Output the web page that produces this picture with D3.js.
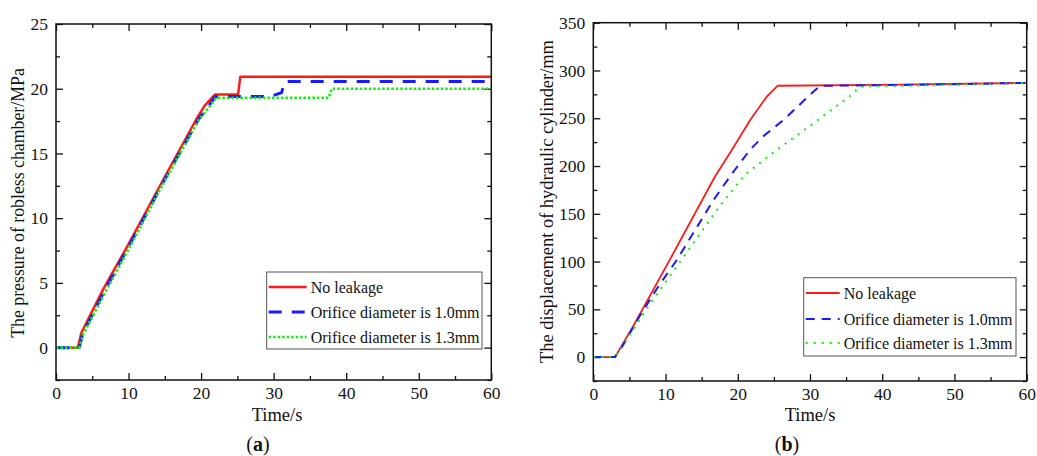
<html>
<head>
<meta charset="UTF-8"/>
<script src="https://d3js.org/d3.v7.min.js"></script>
<style>
body{margin:0;background:#fff;}
svg text{font-family:"Liberation Serif","Times New Roman",serif;fill:#111;}
.frame{fill:none;stroke:#111;stroke-width:1.5;}
.tick line{stroke:#111;stroke-width:1.3;}
.domain{display:none;}
</style>
</head>
<body>
<svg id="fig" width="1037" height="456"></svg>
<script>
'use strict';

// shared
var timeTicks = [0, 10, 20, 30, 40, 50, 60];
var seriesNames = ['No leakage', 'Orifice diameter is 1.0mm', 'Orifice diameter is 1.3mm'];

// (a) pressure of robless chamber, MPa
var pTicks = [0, 5, 10, 15, 20, 25];
var pNoLeakT = [0, 3, 3.5, 6.5, 10, 15, 19.4, 20.5, 21.9, 25.1, 25.4, 60];
var pNoLeakV = [0, 0, 1.15, 4.5, 8.0, 13.2, 17.7, 18.7, 19.55, 19.55, 20.92, 20.92];
var p10T = [0, 3.2, 3.7, 6.7, 10, 15, 19.6, 22, 29.6, 31.1, 31.5, 60];
var p10V = [0, 0, 1.1, 4.4, 7.8, 13.0, 17.6, 19.4, 19.4, 19.7, 20.55, 20.55];
var p13T = [0, 3.2, 3.8, 6.8, 10, 15, 19.7, 22.1, 37.6, 38.0, 60];
var p13V = [0, 0, 1.1, 4.3, 7.6, 12.9, 17.6, 19.3, 19.3, 20.0, 20.0];

// (b) displacement of hydraulic cylinder, mm
var dTicks = [0, 50, 100, 150, 200, 250, 300, 350];
var dNoLeakT = [0, 3, 5.5, 10.6, 16.85, 19.2, 21.7, 24, 25.5, 40, 60];
var dNoLeakV = [0, 0, 32, 102, 189, 217, 248, 272.5, 284, 285, 287];
var d10T = [0, 3, 4, 6.5, 9, 11.5, 14.1, 16.6, 19.2, 21.7, 23.5, 26.3, 30.5, 31.4, 45, 60];
var d10V = [0, 0, 11, 44, 74, 101, 133, 164, 192, 217, 231, 248, 278, 284, 285, 287];
var d13T = [0, 3, 4.6, 7.6, 10.9, 14.1, 17.3, 21, 25.4, 30, 35.5, 36.9, 50, 60];
var d13V = [0, 0, 18, 53, 88, 122, 156, 191, 217, 242, 273, 283, 285, 287];

var colors = ['#ff1a1a', '#1a1aff', '#11ee11'];
var serif = '"Liberation Serif","Times New Roman",serif';

function zip(t, v){ return t.map(function(d, i){ return [d, v[i]]; }); }

var svg = d3.select('#fig');

function drawPanel(p){
    var g = svg.append('g');
    var sx = d3.scaleLinear().domain([0, 60]).range([p.x0, p.x1]);
    var sy = d3.scaleLinear().domain(p.ydom).range([p.y1, p.y0]);
    var xMinor = d3.range(5, 60, 10);
    var yMinor = d3.range(p.ydom[0], p.ydom[1] + 0.001, p.ystep / 2).filter(function(v){ return p.yticks.indexOf(v) < 0; });

    // inward ticks on all four sides
    g.append('g').attr('transform', 'translate(0,' + p.y1 + ')')
        .call(d3.axisBottom(sx).tickValues(timeTicks).tickSizeInner(-7).tickSizeOuter(0).tickPadding(7))
        .attr('font-family', serif)
        .selectAll('text').style('font-size', '17.5px');
    g.append('g').attr('transform', 'translate(0,' + p.y1 + ')')
        .call(d3.axisBottom(sx).tickValues(xMinor).tickSize(-4).tickFormat(''));
    g.append('g').attr('transform', 'translate(0,' + p.y0 + ')')
        .call(d3.axisTop(sx).tickValues(timeTicks).tickSize(-7).tickFormat(''));
    g.append('g').attr('transform', 'translate(0,' + p.y0 + ')')
        .call(d3.axisTop(sx).tickValues(xMinor).tickSize(-4).tickFormat(''));
    g.append('g').attr('transform', 'translate(' + p.x0 + ',0)')
        .call(d3.axisLeft(sy).tickValues(p.yticks).tickSizeInner(-7).tickSizeOuter(0).tickPadding(8))
        .attr('font-family', serif)
        .selectAll('text').style('font-size', '17.5px');
    g.append('g').attr('transform', 'translate(' + p.x0 + ',0)')
        .call(d3.axisLeft(sy).tickValues(yMinor).tickSize(-4).tickFormat(''));
    g.append('g').attr('transform', 'translate(' + p.x1 + ',0)')
        .call(d3.axisRight(sy).tickValues(p.yticks).tickSize(-7).tickFormat(''));
    g.append('g').attr('transform', 'translate(' + p.x1 + ',0)')
        .call(d3.axisRight(sy).tickValues(yMinor).tickSize(-4).tickFormat(''));

    var line = d3.line().x(function(d){ return sx(d[0]); }).y(function(d){ return sy(d[1]); });
    p.series.forEach(function(s, i){
        g.append('path').datum(s).attr('d', line)
            .attr('fill', 'none').attr('stroke', colors[i])
            .attr('stroke-width', p.widths[i])
            .attr('stroke-dasharray', p.dashes[i])
            .attr('stroke-linejoin', 'round');
    });

    g.append('rect').attr('class', 'frame')
        .attr('x', p.x0).attr('y', p.y0)
        .attr('width', p.x1 - p.x0).attr('height', p.y1 - p.y0);

    // legend
    var L = p.legend;
    g.append('rect').attr('x', L.x).attr('y', L.y).attr('width', L.w).attr('height', L.h)
        .attr('fill', '#fff').attr('stroke', '#555').attr('stroke-width', 1);
    seriesNames.forEach(function(name, i){
        var yy = L.rows[i];
        g.append('line').attr('x1', L.x + 2).attr('x2', L.x + 2 + L.sample)
            .attr('y1', yy).attr('y2', yy)
            .attr('stroke', colors[i]).attr('stroke-width', p.widths[i])
            .attr('stroke-dasharray', p.dashes[i]);
        g.append('text').attr('x', L.x + L.sample + 6).attr('y', yy + 5.5)
            .style('font-size', '16px').text(name);
    });

    // axis titles
    g.append('text').attr('x', p.xtx).attr('y', 421)
        .attr('text-anchor', 'middle').style('font-size', '18.5px').text('Time/s');
    g.append('text').attr('transform', 'translate(' + p.ytx + ',' + p.yty + ') rotate(-90)')
        .attr('text-anchor', 'middle').style('font-size', p.ysize + 'px').text(p.ytitle);

    var cap = g.append('text').attr('x', p.capx).attr('y', 451)
        .attr('text-anchor', 'middle').style('font-size', '20px');
    cap.append('tspan').text('(');
    cap.append('tspan').style('font-weight', 'bold').text(p.tag);
    cap.append('tspan').text(')');
}

drawPanel({
    x0: 56, x1: 491.3, y0: 24, y1: 380,
    ydom: [-2.5, 25], ystep: 5, yticks: pTicks,
    series: [zip(pNoLeakT, pNoLeakV), zip(p10T, p10V), zip(p13T, p13V)],
    widths: [2.5, 3, 2.6], dashes: [null, '13,10', '2.5,2'],
    legend: {x: 266.7, y: 272, w: 215.3, h: 77, rows: [287, 312, 337], sample: 38},
    ytitle: 'The pressure of robless chamber/MPa', ytx: 24, yty: 203, ysize: 17.8,
    xtx: 277, capx: 258, tag: 'a'
});

drawPanel({
    x0: 593.3, x1: 1026.7, y0: 22.7, y1: 381,
    ydom: [-25, 350], ystep: 50, yticks: dTicks,
    series: [zip(dNoLeakT, dNoLeakV), zip(d10T, d10V), zip(d13T, d13V)],
    widths: [1.8, 2, 2], dashes: [null, '9,7', '2,6'],
    legend: {x: 803.7, y: 277.7, w: 212.3, h: 78.3, rows: [293, 319, 343], sample: 34},
    ytitle: 'The displacement of hydraulic cylinder/mm', ytx: 553, yty: 201.5, ysize: 18.4,
    xtx: 810, capx: 787, tag: 'b'
});
</script>
</body>
</html>
